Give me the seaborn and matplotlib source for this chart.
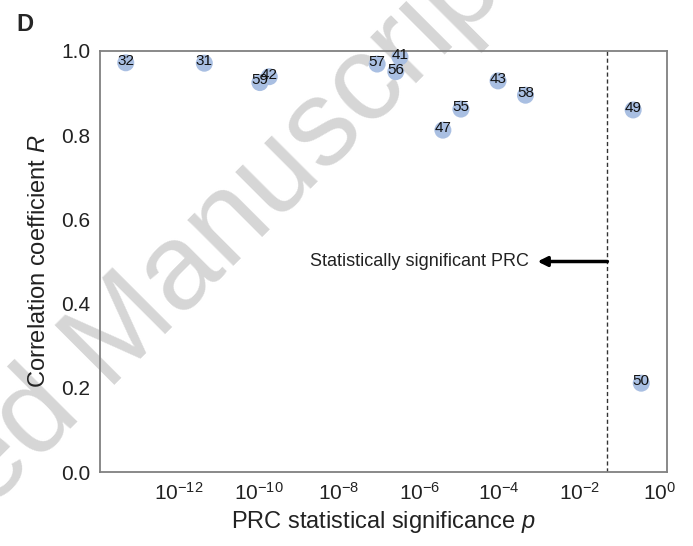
import numpy as np
import pandas as pd
import matplotlib
matplotlib.use('Agg')
import matplotlib.pyplot as plt
import seaborn as sns

# PRC significance vs correlation, one point per cell
cell_ids = ['32', '31', '59', '42', '57', '41', '56', '43', '58', '55', '47', '49', '50']
p_values = [4.7e-14, 4.3e-12, 1.05e-10, 1.8e-10, 8.9e-8, 3.3e-7, 2.6e-7,
            9.3e-5, 4.5e-4, 1.1e-5, 3.9e-6, 0.22, 0.35]
r_values = [0.972, 0.971, 0.925, 0.939, 0.969, 0.986, 0.951,
            0.929, 0.895, 0.862, 0.812, 0.860, 0.211]
p_cutoff = 0.05
arrow_y = 0.5
arrow_tip = 9e-4
y_ticks = [0.0, 0.2, 0.4, 0.6, 0.8, 1.0]

sns.set_theme(style='white')
plt.rcParams['font.family'] = ['Liberation Sans', 'DejaVu Sans']
plt.rcParams['mathtext.fontset'] = 'custom'
plt.rcParams['mathtext.rm'] = 'Liberation Sans'
plt.rcParams['mathtext.it'] = 'Liberation Sans:italic'

df = pd.DataFrame({'cell': cell_ids, 'p': p_values, 'R': r_values})

fig = plt.figure(figsize=(6.93, 5.46), dpi=100)
ax = fig.add_axes([0.1443, 0.1355, 0.8182, 0.7711])
ax.set_facecolor('none')

sns.scatterplot(data=df, x='p', y='R', ax=ax, s=150, color='#a9bfe2',
                edgecolor='none', zorder=2, legend=False)
ax.set_xscale('log')

for _, row in df.iterrows():
    ax.annotate(row['cell'], (row['p'], row['R']), xytext=(0, 1.5),
                textcoords='offset points', ha='center', va='center',
                fontsize=11, color='#111111', zorder=3)

ax.axvline(p_cutoff, color='#333333', lw=1, ls=(0, (3, 2)), zorder=1)
ax.annotate('', xy=(arrow_tip, arrow_y), xytext=(p_cutoff, arrow_y),
            arrowprops=dict(arrowstyle='-|>', color='black', lw=2.5,
                            mutation_scale=14, shrinkA=0, shrinkB=0))
ax.text(5.6e-4, arrow_y, 'Statistically significant PRC', ha='right',
        va='center', fontsize=13, color='#222222')

ax.set_ylim(0, 1)
ax.set_yticks(y_ticks)
ax.set_yticklabels([f'{v:.1f}' for v in y_ticks])
ax.set_xticks([1e-12, 1e-10, 1e-8, 1e-6, 1e-4, 1e-2, 1e0])
ax.minorticks_off()
ax.tick_params(axis='both', labelsize=15, length=0, pad=7, colors='#222222')
ax.set_xlabel('PRC statistical significance $p$', fontsize=17, labelpad=4, color='#222222')
ax.set_ylabel('Correlation coefficient $R$', fontsize=17, labelpad=8, color='#222222')

for sp in ax.spines.values():
    sp.set_color('#808080')
    sp.set_linewidth(1.3)

fig.text(0.023, 0.976, 'D', fontsize=17, fontweight='bold', va='top', ha='left')

# faint watermark behind the axes
fig.text(0.151, 0.36, 'Accepted Manuscript', fontsize=88, color='#d6d6d6',
         rotation=45, ha='center', va='center', rotation_mode='anchor', zorder=-1)

fig.savefig('out.png', dpi=100)
